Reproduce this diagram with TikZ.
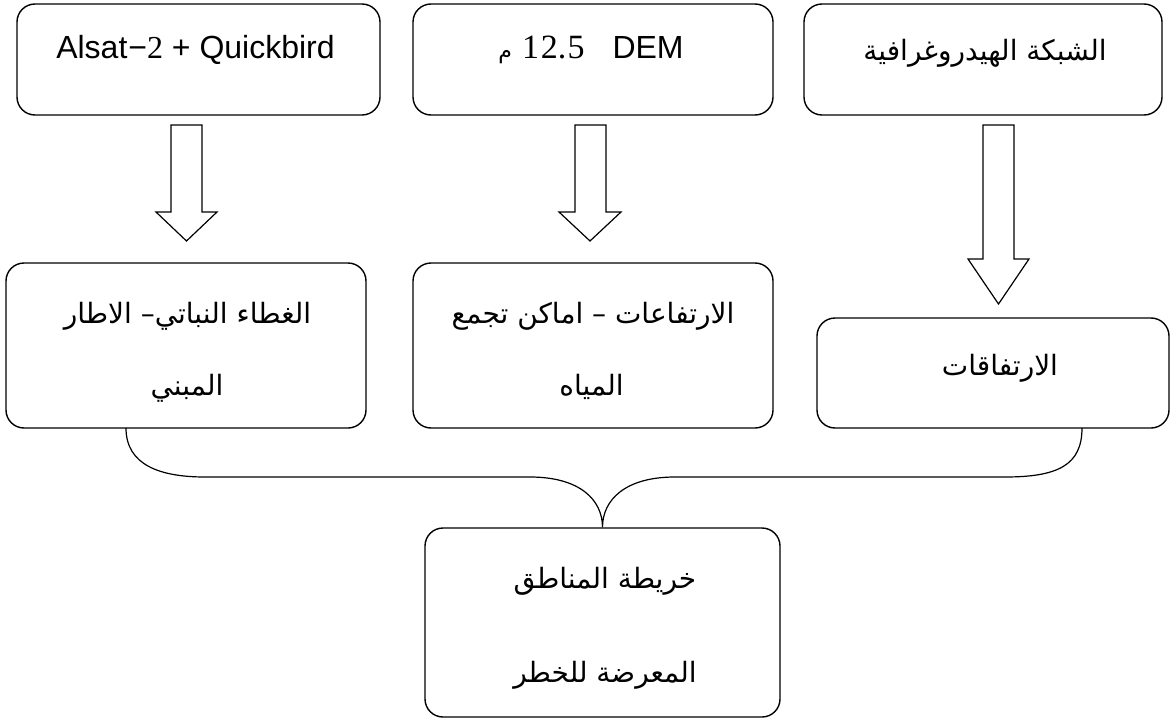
\documentclass[tikz,border=0pt]{standalone}
\usepackage{fontspec}
\setmainfont{Liberation Sans}
\newfontfamily\arabicfont[Script=Arabic]{DejaVu Sans}
\newfontfamily\timesfont{Liberation Serif}
\TeXXeTstate=1
\begin{document}
\begin{tikzpicture}[x=1pt,y=-1pt,
  box/.style={draw, line width=1.4pt, rounded corners=18pt, inner sep=0pt},
  lbl/.style={anchor=base, inner sep=0pt, font=\fontsize{32}{34}\selectfont},
  ar/.style={anchor=base, inner sep=0pt, font=\arabicfont\fontsize{28}{32}\selectfont},
  blockarrow/.style={draw, line width=1.2pt, line join=miter},
  brace/.style={draw, line width=1.2pt}]
\useasboundingbox (0,0) rectangle (1171,720);

% boxes
\node[box, minimum width=363pt, minimum height=111pt] (b1) at (198.5,59.5) {};
\node[box, minimum width=360pt, minimum height=111pt] (b2) at (593,59.5) {};
\node[box, minimum width=358pt, minimum height=111pt] (b3) at (983,59.5) {};
\node[box, minimum width=360pt, minimum height=165pt] (b4) at (186,345.5) {};
\node[box, minimum width=360pt, minimum height=165pt] (b5) at (593,345.5) {};
\node[box, minimum width=352pt, minimum height=110pt] (b6) at (993,373) {};
\node[box, minimum width=355pt, minimum height=189pt] (b7) at (602.5,622.5) {};

% texts
\node[lbl] (t1) at (195.5,58) {Alsat\kern1pt−{\timesfont 2} + Quickbird};
\node[lbl] (t2) at (591,58) {{\arabicfont\fontsize{22}{24}\selectfont م}\hspace{10pt}{\timesfont\fontsize{34}{36}\selectfont 1\kern2pt2.\kern1pt5}\hspace{28pt}DEM};
\node[ar] (t3) at (985,60) {\beginR الشبكة الهيدروغرافية\endR};
\node[ar] (t4a) at (187.5,323) {\beginR الغطاء النباتي– الاطار\endR};
\node[ar] (t4b) at (187,395) {\beginR المبني\endR};
\node[ar] (t5a) at (593,323) {\beginR الارتفاعات – اماكن تجمع\endR};
\node[ar] (t5b) at (591.5,395) {\beginR المياه\endR};
\node[ar] (t6) at (1000,375) {\beginR الارتفاقات\endR};
\node[ar] (t7a) at (605,588) {\beginR خريطة المناطق\endR};
\node[ar] (t7b) at (605,682) {\beginR المعرضة للخطر\endR};

% block arrows
\draw[blockarrow] (171,125) -- (202,125) -- (202,212) -- (217,212) -- (186.5,241) -- (156,212) -- (171,212) -- cycle;
\draw[blockarrow] (575,125) -- (606,125) -- (606,212) -- (621,212) -- (590,241) -- (559,212) -- (575,212) -- cycle;
\draw[blockarrow] (983,125) -- (1014,125) -- (1014,259) -- (1029,259) -- (998.5,304) -- (968,259) -- (983,259) -- cycle;

% brace
\coordinate (bl) at (126,428);
\coordinate (br) at (1082,428);
\draw[brace] (bl) .. controls (126,465) and (160,477) .. (205,477) -- (530,477)
  .. controls (580,477) and (602.5,500) .. (b7.north)
  .. controls (602.5,500) and (625,477) .. (675,477) -- (1005,477)
  .. controls (1058,477) and (1082,465) .. (br);
\end{tikzpicture}
\end{document}
